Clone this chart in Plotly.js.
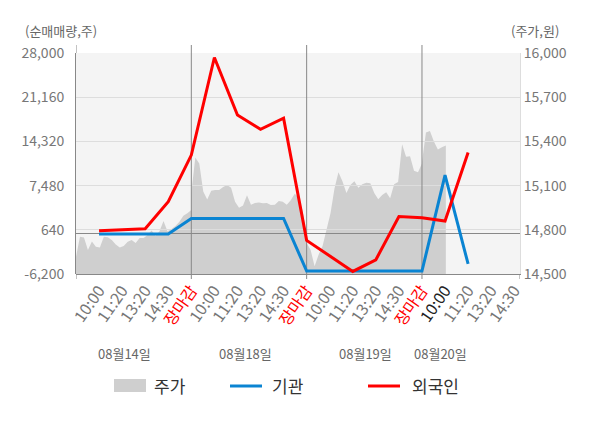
<!DOCTYPE html>
<html>
<head>
<meta charset="utf-8">
<script src="https://cdn.plot.ly/plotly-3.0.1.min.js"></script>
<style>
  html, body { margin: 0; padding: 0; background: #fff; }
  #chart { width: 600px; height: 428px; }
</style>
</head>
<body>
<div id="chart"></div>
<script>
// x axis labels, one per slot (slot 1 = 10:00 of the first day)
const timeLabels = [
  '10:00', '11:20', '13:20', '14:30', '장마감',
  '10:00', '11:20', '13:20', '14:30', '장마감',
  '10:00', '11:20', '13:20', '14:30', '장마감',
  '10:00', '11:20', '13:20', '14:30'
];
const dateLabels = ['08월14일', '08월18일', '08월19일', '08월20일'];

// share price (원), intraday samples per day
const price0814 = [14617, 14753, 14748, 14663, 14720, 14685, 14680, 14753, 14750, 14731,
  14700, 14680, 14690, 14719, 14731, 14710, 14745, 14745, 14765, 14795,
  14760, 14790, 14860, 14790, 14805, 14825, 14855, 14895, 14912, 14934];
const price0818 = [15050, 15290, 15250, 15060, 15005, 15065, 15070, 15070, 15090, 15104,
  15085, 14990, 14950, 14965, 15035, 14970, 14982, 14985, 14980, 14982,
  14968, 14970, 14995, 14990, 14970, 15000, 15045, 15020, 14930, 14760];
const price0819 = [14710, 14663, 14552, 14630, 14690, 14810, 14912, 15080, 15190, 15130,
  15050, 15104, 15130, 15085, 15110, 15120, 15116, 15050, 15008, 15036,
  15055, 15014, 15110, 15125, 15380, 15296, 15300, 15200, 15190, 15250];
const price0820 = [15260, 15460, 15470, 15400, 15345, 15360, 15372];

// net buying (주) at each labelled time, slots 1..17
const institution = [0, 0, 0, 0, 2400, 2400, 2400, 2400, 2400,
  -5750, -5750, -5750, -5750, -5750, -5750, 9100, -4650];
const foreign = [500, 600, 800, 5000, 12200, 27300, 18400, 16200, 17900,
  -1000, -3400, -5800, -4000, 2700, 2500, 2000, 12600];

const leftTicks = [-6200, 640, 7480, 14320, 21160, 28000];
const rightTicks = [14500, 14800, 15100, 15400, 15700, 16000];

const FONT = '"Noto Sans CJK KR", "Noto Sans", sans-serif';
const fmt = v => (v < 0 ? '-' : '') + Math.abs(v).toLocaleString('en-US');

// price samples spread evenly over each day's 5 slots
const priceX = [], priceY = [];
[price0814, price0818, price0819, price0820].forEach((day, d) => {
  day.forEach((v, j) => {
    priceX.push(d * 5 + j * 5 / 29);
    priceY.push(v);
  });
});
const slots = institution.map((_, i) => i + 1);

const tickText = timeLabels.map((t, i) => {
  if (t === '장마감') return '<span style="color:#ff0000">' + t + '</span>';
  if (i === 15) return '<span style="color:#222">' + t + '</span>';
  return t;
});

const traces = [
  {
    x: priceX, y: priceY, xaxis: 'x', yaxis: 'y',
    type: 'scatter', mode: 'lines', fill: 'tozeroy',
    fillcolor: '#cfcfcf', line: {width: 0, color: '#cfcfcf'},
    name: '주가', showlegend: false, hoverinfo: 'skip'
  },
  {
    x: slots, y: institution, xaxis: 'x2', yaxis: 'y2',
    type: 'scatter', mode: 'lines',
    line: {color: '#0a84d2', width: 3},
    name: '기관', showlegend: false
  },
  {
    x: slots, y: foreign, xaxis: 'x2', yaxis: 'y2',
    type: 'scatter', mode: 'lines',
    line: {color: '#ff0000', width: 3},
    name: '외국인', showlegend: false
  }
];

// pixel helpers for things placed in paper space
const L = 76, R = 520, T = 53, B = 274;
const pxX = v => (v - L) / (R - L);
const pxY = v => (B - v) / (B - T);

const shapes = [
  // plot background, under everything
  {type: 'rect', xref: 'paper', yref: 'paper', x0: 0, x1: 1, y0: 0, y1: 1,
    fillcolor: '#f4f4f4', line: {width: 0}, layer: 'below'}
];
[5, 10, 15].forEach(x => {
  shapes.push({type: 'line', xref: 'x2', yref: 'y2', x0: x, x1: x, y0: -6200, y1: 28000,
    line: {color: '#888', width: 1}, layer: 'between'});
});
[0, 5, 10, 15].forEach(x => {
  shapes.push({type: 'line', xref: 'x', yref: 'paper', x0: x, x1: x, y0: 1, y1: pxY(45),
    line: {color: '#888', width: 1}, layer: 'above'});
});
[0, 5, 10, 15, 19.25].forEach(x => {
  shapes.push({type: 'line', xref: 'x', yref: 'paper', x0: x, x1: x, y0: 0, y1: pxY(279),
    line: {color: '#888', width: 1}, layer: 'above'});
});
// legend keys
shapes.push({type: 'rect', xref: 'paper', yref: 'paper', x0: pxX(114), x1: pxX(146),
  y0: pxY(379), y1: pxY(392), fillcolor: '#cfcfcf', line: {width: 0}});
shapes.push({type: 'line', xref: 'paper', yref: 'paper', x0: pxX(230), x1: pxX(262),
  y0: pxY(386), y1: pxY(386), line: {color: '#0a84d2', width: 3}});
shapes.push({type: 'line', xref: 'paper', yref: 'paper', x0: pxX(368), x1: pxX(400),
  y0: pxY(386), y1: pxY(386), line: {color: '#ff0000', width: 3}});

const note = (text, x, y, size, color, xanchor) => ({
  text: text, xref: 'paper', yref: 'paper', x: pxX(x), y: pxY(y),
  xanchor: xanchor || 'center', yanchor: 'middle', showarrow: false,
  font: {size: size, color: color, family: FONT}
});
const annotations = [
  note('(순매매량,주)', 61, 31, 13, '#666'),
  note('(주가,원)', 535, 31, 13, '#666'),
  note('주가', 152, 385, 17, '#333', 'left'),
  note('기관', 270, 385, 17, '#333', 'left'),
  note('외국인', 410, 385, 17, '#333', 'left')
];
const datePos = [2.12, 7.33, 12.53, 15.82];
dateLabels.forEach((t, i) => {
  annotations.push({text: t, xref: 'x', yref: 'paper', x: datePos[i], y: pxY(353),
    xanchor: 'center', yanchor: 'middle', showarrow: false,
    font: {size: 13, color: '#666', family: FONT}});
});

const layout = {
  width: 600, height: 428,
  margin: {l: L, r: 600 - R, t: T, b: 428 - B},
  paper_bgcolor: '#fff', plot_bgcolor: 'rgba(0,0,0,0)',
  font: {family: FONT, color: '#666'},
  showlegend: false,
  xaxis: {
    range: [0, 19.25], domain: [0, 1], anchor: 'y',
    tickvals: timeLabels.map((_, i) => i + 1), ticktext: tickText,
    tickangle: -55, tickfont: {size: 16, color: '#777'},
    showgrid: false, zeroline: false, ticks: '',
    showline: true, linecolor: '#888', linewidth: 1
  },
  yaxis: {
    side: 'right', anchor: 'x', range: [14500, 16000],
    tickvals: rightTicks, ticktext: rightTicks.map(fmt),
    tickfont: {size: 14, color: '#777'},
    showgrid: false, zeroline: false, ticks: '',
    showline: true, linecolor: '#ddd'
  },
  xaxis2: {
    range: [0, 19.25], domain: [0, 1], anchor: 'y2', visible: false
  },
  yaxis2: {
    side: 'left', anchor: 'x2', range: [-6200, 28000],
    tickvals: leftTicks, ticktext: leftTicks.map(fmt),
    tickfont: {size: 14, color: '#777'}, ticklabelstandoff: 8,
    showgrid: true, gridcolor: '#dddddd', gridwidth: 1,
    zeroline: true, zerolinecolor: '#888', zerolinewidth: 1,
    showline: true, linecolor: '#888', ticks: ''
  },
  shapes: shapes,
  annotations: annotations
};

Plotly.newPlot('chart', traces, layout, {displayModeBar: false, staticPlot: true});
</script>
</body>
</html>
